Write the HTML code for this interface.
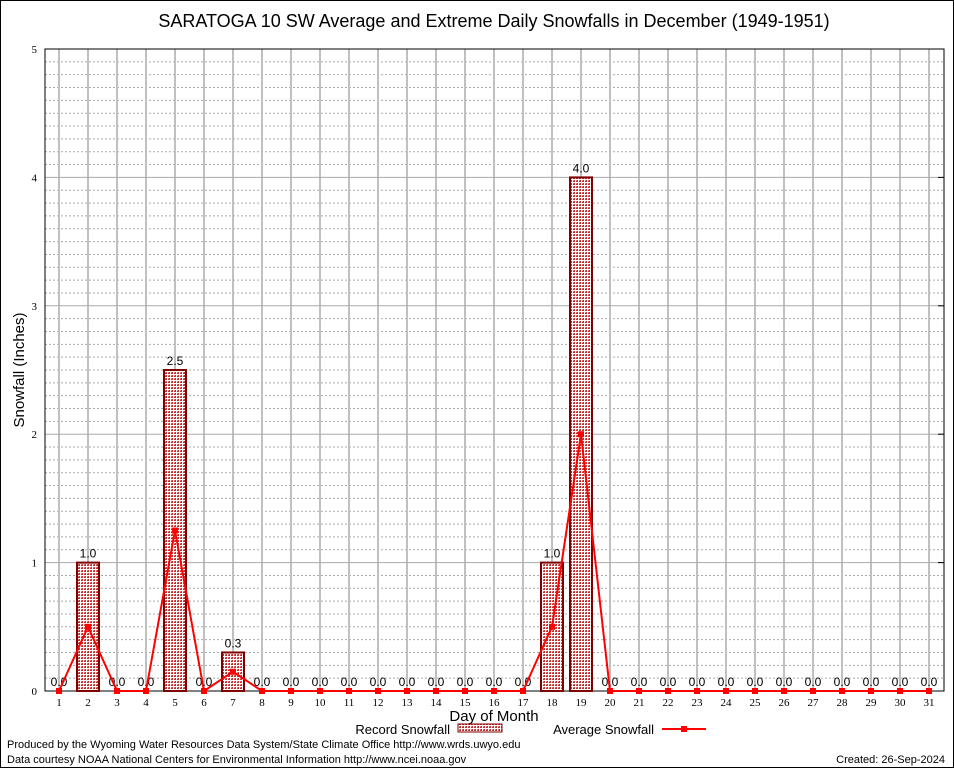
<!DOCTYPE html>
<html><head><meta charset="utf-8"><style>
body{margin:0;background:#fff}
svg{display:block;font-family:"Liberation Sans",sans-serif}
</style></head><body>
<svg id="c" width="954" height="768" viewBox="0 0 954 768">
<defs><pattern id="hatch" width="3" height="3" patternUnits="userSpaceOnUse"><rect width="3" height="3" fill="#fff"/><rect width="2" height="2" fill="#c03030"/><rect width="1" height="1" fill="#e08080"/></pattern></defs>
<rect x="0.5" y="0.5" width="953" height="767" fill="#fff" stroke="#000"/>
<text x="494" y="27" font-size="18" text-anchor="middle">SARATOGA 10 SW Average and Extreme Daily Snowfalls in December (1949-1951)</text>
<g id="grid"></g><g id="marks"></g>
<text x="24" y="370" font-size="15" text-anchor="middle" transform="rotate(-90 24 370)">Snowfall (Inches)</text>
<text x="494" y="721" font-size="15" text-anchor="middle">Day of Month</text>
<g>
<text x="450" y="734" font-size="13" text-anchor="end">Record Snowfall</text>
<rect x="458" y="724" width="44" height="8" fill="url(#hatch)" stroke="#800000"/>
<text x="654" y="734" font-size="13" text-anchor="end">Average Snowfall</text>
<line x1="662" y1="729" x2="706" y2="729" stroke="#f00" stroke-width="2"/>
<rect x="681" y="726" width="6" height="6" fill="#f00"/>
</g>
<text x="7" y="748" font-size="11">Produced by the Wyoming Water Resources Data System/State Climate Office http://www.wrds.uwyo.edu</text>
<text x="7" y="763" font-size="11">Data courtesy NOAA National Centers for Environmental Information http://www.ncei.noaa.gov</text>
<text x="945" y="763" font-size="11" text-anchor="end">Created: 26-Sep-2024</text>
</svg>
<script>
const days=[1,2,3,4,5,6,7,8,9,10,11,12,13,14,15,16,17,18,19,20,21,22,23,24,25,26,27,28,29,30,31];
const record=[0,1.0,0,0,2.5,0,0.3,0,0,0,0,0,0,0,0,0,0,1.0,4.0,0,0,0,0,0,0,0,0,0,0,0,0];
const average=[0,0.5,0,0,1.25,0,0.15,0,0,0,0,0,0,0,0,0,0,0.5,2.0,0,0,0,0,0,0,0,0,0,0,0,0];
const yTicks=[0,1,2,3,4,5];
const L=45,R=944,T=49,B=691,yMax=5;
const X=d=>59+(d-1)*(929-59)/30;
const Y=v=>B-(v/yMax)*(B-T);
const NS="http://www.w3.org/2000/svg";
function mk(tag,attrs,parent,txt){const e=document.createElementNS(NS,tag);for(const k in attrs)e.setAttribute(k,attrs[k]);if(txt!==undefined)e.textContent=txt;parent.appendChild(e);return e;}
const g=document.getElementById('grid'),m=document.getElementById('marks');
for(let i=1;i<yMax*10;i++){if(i%10===0)continue;const l=mk('line',{x1:L,x2:R,y1:Y(i/10),y2:Y(i/10),stroke:'#aaa','stroke-dasharray':'2,2','stroke-width':1},g);

}
days.forEach(d=>{const l=mk('line',{x1:X(d),x2:X(d),y1:T,y2:B,stroke:'#c0c0c0','stroke-width':2},g);


const t=mk('text',{x:X(d),y:B+15,'font-size':11,'text-anchor':'middle','font-family':'Liberation Serif'},g,String(d));

});
yTicks.forEach(v=>{const l=mk('line',{x1:L,x2:R,y1:Y(v),y2:Y(v),stroke:'#aaa','stroke-width':1},g);


const tk=mk('line',{x1:R-6,x2:R,y1:Y(v),y2:Y(v),stroke:'#000','stroke-width':1},g);


const t=mk('text',{x:L-8,y:Y(v)+4,'font-size':11,'text-anchor':'end','font-family':'Liberation Serif'},g,String(v));

});
const f=mk('rect',{x:L,y:T,width:R-L,height:B-T,fill:'none',stroke:'#000'},g);


days.forEach((d,i)=>{const v=record[i];
if(v>0){const r=mk('rect',{x:X(d)-11,y:Y(v),width:22,height:B-Y(v),fill:'url(#hatch)',stroke:'#800000','stroke-width':2},m);

}
const t=mk('text',{x:X(d),y:Y(v)-5,'font-size':12,'text-anchor':'middle'},m,v.toFixed(1));

});
const pts=days.map((d,i)=>X(d)+','+Y(average[i])).join(' ');
const pl=mk('polyline',{points:pts,fill:'none',stroke:'#f00','stroke-width':2},m);


days.forEach((d,i)=>{const p=mk('rect',{x:X(d)-3,y:Y(average[i])-3,width:6,height:6,fill:'#f00'},m);

});
</script>
</body></html>
